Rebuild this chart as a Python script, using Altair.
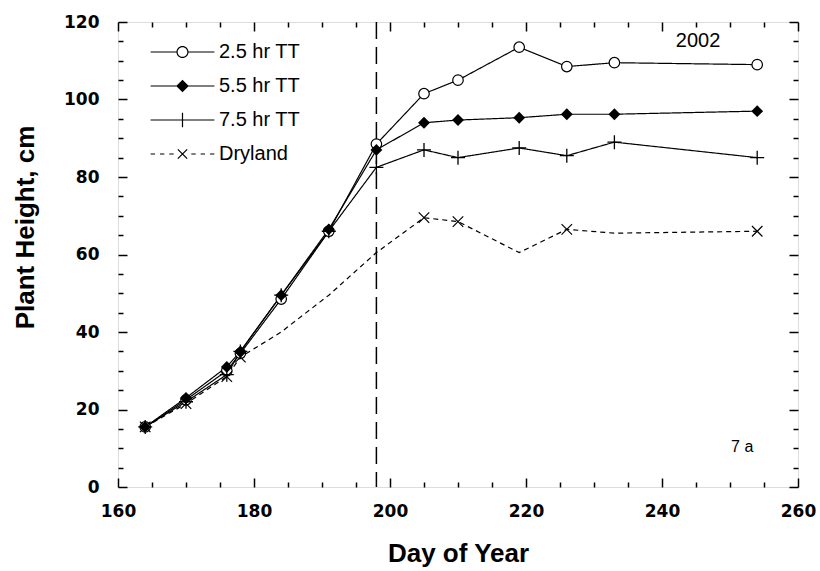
import altair as alt
import pandas as pd

# ---- data ----
days = [164, 170, 176, 178, 184, 191, 198, 205, 210, 219, 226, 233, 254]
series_names = ["2.5 hr TT", "5.5 hr TT", "7.5 hr TT", "Dryland"]
h25 = [15.5, 22.5, 30.0, 34.5, 48.5, 66.0, 88.5, 101.5, 105.0, 113.5, 108.5, 109.5, 109.0]
h55 = [15.5, 23.0, 31.0, 35.0, 49.5, 66.5, 87.0, 94.0, 94.7, 95.3, 96.2, 96.2, 97.0]
h75 = [15.5, 22.0, 29.0, 35.0, 49.5, 66.0, 82.5, 87.0, 85.0, 87.5, 85.5, 89.0, 85.0]
hdry = [15.5, 21.5, 28.5, 33.5, 40.0, 49.5, 60.5, 69.5, 68.5, 60.5, 66.5, 65.5, 66.0]
dry_marked = [True, True, True, True, False, False, False, True, True, False, True, False, True]

vline_day = [198]
year_label = ["2002"]
year_pos = [245.3, 113.6]
panel_label = ["7 a"]
panel_pos = [251.8, 9.0]

x_major = list(range(160, 261, 20))
x_minor = list(range(160, 261, 5))
y_major = list(range(0, 121, 20))
y_minor = list(range(0, 121, 5))

rows = []
for name, vals in zip(series_names, [h25, h55, h75, hdry]):
    for i, (d, v) in enumerate(zip(days, vals)):
        rows.append({"day": d, "height": v, "series": name,
                     "marked": (name != "Dryland") or dry_marked[i]})
df = pd.DataFrame(rows)

W, H = 680, 465
xs = alt.Scale(domain=[160, 260], nice=False, zero=False)
ys = alt.Scale(domain=[0, 120], nice=False, zero=False)

tick_size = {"condition": {"test": "datum.value % 20 === 0", "value": 9}, "value": 5}

def tick_axis(orient, offset, vals):
    return alt.Axis(orient=orient, offset=offset, values=vals, labels=False, title=None,
                    domain=False, grid=False, ticks=True, tickSize=tick_size,
                    tickColor="black", tickWidth=1.5)

x_lab = alt.Axis(orient="bottom", values=x_major, ticks=False, domain=False, grid=False,
                 labelFont="DejaVu Sans", labelFontWeight="bold", labelFontSize=17,
                 labelColor="black", labelPadding=16, format="d", labelFlush=False,
                 labelOverlap=False,
                 title="Day of Year", titleFont="Liberation Sans", titleFontSize=26,
                 titleFontWeight="bold", titleColor="black", titleBaseline="alphabetic",
                 titleY=74)
y_lab = alt.Axis(orient="left", values=y_major, ticks=False, domain=False, grid=False,
                 labelFont="DejaVu Sans", labelFontWeight="bold", labelFontSize=17,
                 labelColor="black", labelPadding=19, format="d", labelFlush=False,
                 labelOverlap=False,
                 title="Plant Height, cm", titleFont="Liberation Sans", titleFontSize=26,
                 titleFontWeight="bold", titleColor="black", titleBaseline="alphabetic",
                 titleAngle=-90, titleX=-85, titleY=205, titleAlign="center")

base = alt.Chart(df)

lines = base.mark_line(color="black", strokeWidth=1.2).encode(
    x=alt.X("day:Q", scale=xs, axis=x_lab),
    y=alt.Y("height:Q", scale=ys, axis=y_lab),
    detail="series:N",
    strokeDash=alt.StrokeDash("series:N", legend=None,
                              scale=alt.Scale(domain=series_names,
                                              range=[[1, 0], [1, 0], [1, 0], [5, 4]])),
    order="day:Q",
)

circles = base.transform_filter(alt.datum.series == series_names[0]).mark_point(
    shape="circle", size=110, filled=True, fill="white", stroke="black", strokeWidth=1.2, opacity=1
).encode(
    x=alt.X("day:Q", scale=xs, axis=tick_axis("top", -H, x_minor)),
    y=alt.Y("height:Q", scale=ys, axis=tick_axis("right", -W, y_minor)),
)

diamonds = base.transform_filter(alt.datum.series == series_names[1]).mark_point(
    shape="diamond", size=140, filled=True, color="black", opacity=1
).encode(
    x=alt.X("day:Q", scale=xs, axis=tick_axis("bottom", -H, x_minor)),
    y=alt.Y("height:Q", scale=ys, axis=tick_axis("left", -W, y_minor)),
)

pluses = base.transform_filter(alt.datum.series == series_names[2]).mark_point(
    shape="M-1,0H1M0,-1V1", size=196, filled=False, stroke="black", strokeWidth=1.3, opacity=1
).encode(
    x=alt.X("day:Q", scale=xs, axis=None),
    y=alt.Y("height:Q", scale=ys, axis=None),
)

crosses = base.transform_filter(
    (alt.datum.series == series_names[3]) & alt.datum.marked
).mark_point(
    shape="M-1,-1L1,1M1,-1L-1,1", size=110, filled=False, stroke="black", strokeWidth=1.2, opacity=1
).encode(
    x=alt.X("day:Q", scale=xs, axis=None),
    y=alt.Y("height:Q", scale=ys, axis=None),
)

# legend symbols: filled outlines (line + marker) drawn as one path each
def hbar(a, b, t=0.11):
    return f"M{a},{-t}H{b}V{t}H{a}Z"

ring = ("M1.1,0A1.1,1.1,0,1,1,-1.1,0A1.1,1.1,0,1,1,1.1,0Z"
        "M0.88,0A0.88,0.88,0,1,0,-0.88,0A0.88,0.88,0,1,0,0.88,0Z")
diamond = "M0,-1.15L1.15,0L0,1.15L-1.15,0Z"
vbar = "M-0.11,-1.3H0.11V1.3H-0.11Z"
xmark = ("M-0.772,-0.928L0.928,0.772L0.772,0.928L-0.928,-0.772Z"
         "M0.928,-0.772L-0.772,0.928L-0.928,0.772L0.772,-0.928Z")
dashes = "".join(hbar(a, b) for a, b in [(-5.8, -5.0), (-4.1, -3.3), (-2.4, -1.6),
                                         (1.6, 2.4), (3.3, 4.1), (5.0, 5.8)])
legend_paths = [
    hbar(-5.8, -1.0) + hbar(1.0, 5.8) + ring,
    hbar(-5.8, 5.8) + diamond,
    hbar(-5.8, 5.8) + vbar,
    dashes + xmark,
]
leg = alt.Legend(orient="none", legendX=54.5, legendY=20, title=None, padding=0,
                 labelFont="Liberation Sans", labelFontSize=20, labelColor="black",
                 labelOffset=26.5, rowPadding=14, symbolSize=121, symbolStrokeWidth=0,
                 labelBaseline="middle", symbolOpacity=1)
legend_layer = base.transform_filter("false").mark_point(
    filled=True, size=121
).encode(
    x=alt.X("day:Q", scale=xs, axis=None),
    y=alt.Y("height:Q", scale=ys, axis=None),
    fill=alt.Fill("series:N", legend=leg,
                  scale=alt.Scale(domain=series_names,
                                  range=["black", "black", "black", "black"])),
    shape=alt.Shape("series:N", legend=leg,
                    scale=alt.Scale(domain=series_names, range=legend_paths)),
)

vline = alt.Chart(pd.DataFrame({"day": vline_day})).mark_rule(
    color="black", strokeWidth=1.5, strokeDash=[17, 8]
).encode(x=alt.X("day:Q", scale=xs, axis=None))

year_txt = alt.Chart(pd.DataFrame({"t": year_label, "x": [year_pos[0]], "y": [year_pos[1]]})).mark_text(
    font="Liberation Sans", fontSize=20, color="black", align="center", baseline="alphabetic"
).encode(x=alt.X("x:Q", scale=xs, axis=None), y=alt.Y("y:Q", scale=ys, axis=None), text="t:N")

panel_txt = alt.Chart(pd.DataFrame({"t": panel_label, "x": [panel_pos[0]], "y": [panel_pos[1]]})).mark_text(
    font="Liberation Sans", fontSize=16, color="black", align="center", baseline="alphabetic"
).encode(x=alt.X("x:Q", scale=xs, axis=None), y=alt.Y("y:Q", scale=ys, axis=None), text="t:N")

chart = alt.layer(
    vline, lines, circles, diamonds, pluses, crosses, legend_layer, year_txt, panel_txt
).resolve_axis(x="independent", y="independent").resolve_scale(
    shape="independent", fill="independent", strokeDash="independent"
).properties(
    width=W, height=H,
    autosize=alt.AutoSizeParams(type="none"),
    padding={"left": 118, "top": 22, "right": 22, "bottom": 84},
).configure_view(stroke="black", strokeWidth=2).configure(background="white")

chart.save("out.html", embed_options={"renderer": "svg", "actions": False})
